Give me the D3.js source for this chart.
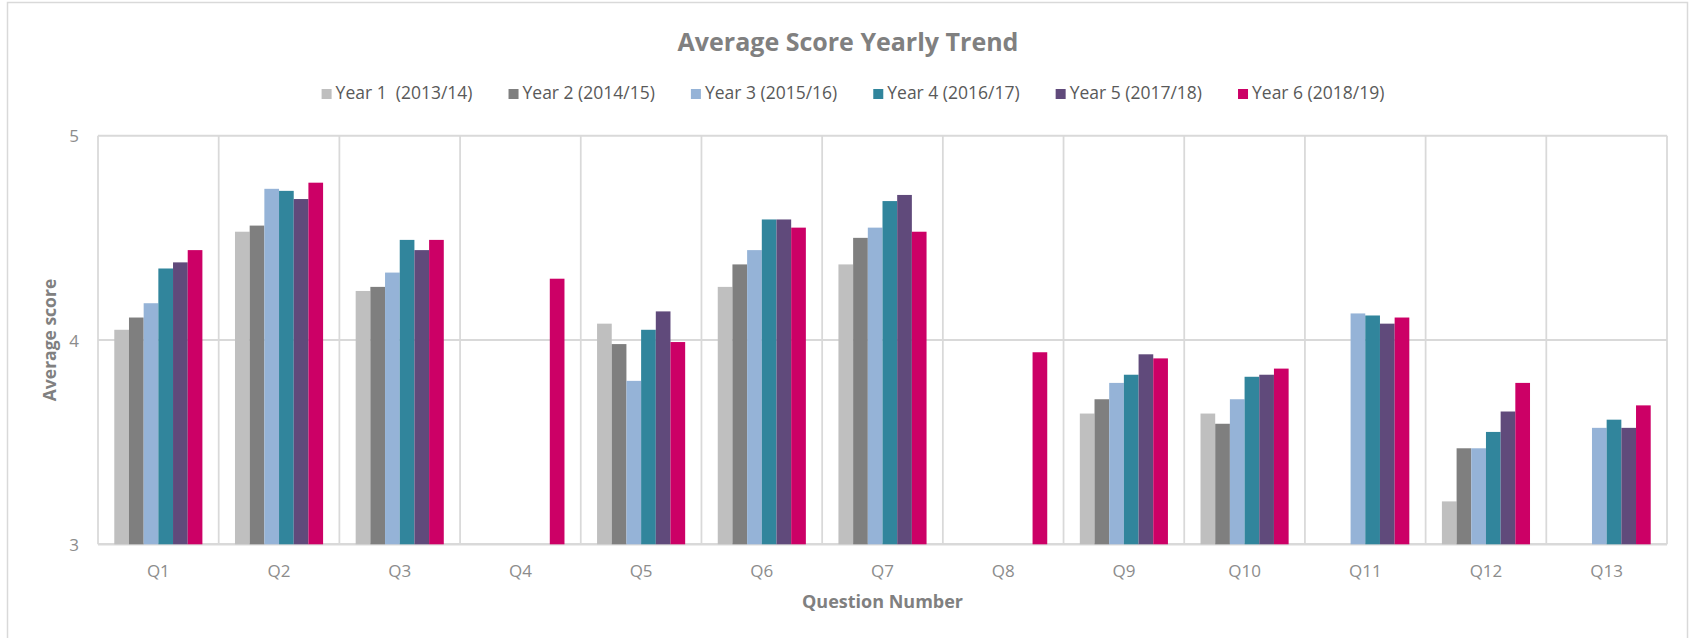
<!DOCTYPE html>
<html>
<head>
<meta charset="utf-8">
<script src="https://cdn.jsdelivr.net/npm/d3@7/dist/d3.min.js"></script>
<style>
  html, body { margin: 0; padding: 0; background: #ffffff; }
  svg { display: block; font-family: "Open Sans", "DejaVu Sans", sans-serif; }
  svg text { white-space: pre; }
</style>
</head>
<body>
<div id="chart"></div>
<script>
// categories and series (null = no bar that year)
const questions = ["Q1", "Q2", "Q3", "Q4", "Q5", "Q6", "Q7", "Q8", "Q9", "Q10", "Q11", "Q12", "Q13"]
const yearLabels = ["Year 1  (2013/14)", "Year 2 (2014/15)", "Year 3 (2015/16)", "Year 4 (2016/17)", "Year 5 (2017/18)", "Year 6 (2018/19)"]
const yearColors = ["#bfbfbf", "#7f7f7f", "#95b3d7", "#31859c", "#604a7b", "#cc0066"]

const year1 = [4.05, 4.53, 4.24, null, 4.08, 4.26, 4.37, null, 3.64, 3.64, null, 3.21, null]
const year2 = [4.11, 4.56, 4.26, null, 3.98, 4.37, 4.50, null, 3.71, 3.59, null, 3.47, null]
const year3 = [4.18, 4.74, 4.33, null, 3.80, 4.44, 4.55, null, 3.79, 3.71, 4.13, 3.47, 3.57]
const year4 = [4.35, 4.73, 4.49, null, 4.05, 4.59, 4.68, null, 3.83, 3.82, 4.12, 3.55, 3.61]
const year5 = [4.38, 4.69, 4.44, null, 4.14, 4.59, 4.71, null, 3.93, 3.83, 4.08, 3.65, 3.57]
const year6 = [4.44, 4.77, 4.49, 4.30, 3.99, 4.55, 4.53, 3.94, 3.91, 3.86, 4.11, 3.79, 3.68]

const yTicks = [3, 4, 5]

const series = [year1, year2, year3, year4, year5, year6]

const width = 1690
const height = 638
const margin = { top: 135.7, right: 23, bottom: 93.7, left: 98 }
const plotW = width - margin.left - margin.right
const plotH = height - margin.top - margin.bottom
const fontFamily = '"Open Sans", "DejaVu Sans", sans-serif'

const svg = d3.select("#chart")
    .append("svg")
    .attr("width", width)
    .attr("height", height)

// outer chart border
svg.append("rect")
    .attr("x", 7.5)
    .attr("y", 2.5)
    .attr("width", 1680)
    .attr("height", 700)
    .attr("fill", "none")
    .attr("stroke", "#d9d9d9")
    .attr("stroke-width", 1.5)

const g = svg.append("g")
    .attr("transform", `translate(${margin.left},${margin.top})`)

const x0 = d3.scaleBand()
    .domain(questions)
    .range([0, plotW])
    .padding(0)

const groupW = x0.bandwidth() * 0.73
const x1 = d3.scaleBand()
    .domain(d3.range(series.length))
    .range([(x0.bandwidth() - groupW) / 2, (x0.bandwidth() + groupW) / 2])
    .padding(0)

const y = d3.scaleLinear()
    .domain([3, 5])
    .range([plotH, 0])

// horizontal gridlines
g.append("g")
    .selectAll("line")
    .data(yTicks)
    .join("line")
    .attr("x1", 0)
    .attr("x2", plotW)
    .attr("y1", d => y(d))
    .attr("y2", d => y(d))
    .attr("stroke", "#d9d9d9")
    .attr("stroke-width", d => d === 3 ? 2.5 : 2)

// vertical gridlines at category boundaries
const bounds = questions.map(q => x0(q)).concat([plotW])
g.append("g")
    .selectAll("line")
    .data(bounds)
    .join("line")
    .attr("x1", d => d)
    .attr("x2", d => d)
    .attr("y1", y(5))
    .attr("y2", y(3))
    .attr("stroke", "#d9d9d9")
    .attr("stroke-width", 1.75)

// bars
const groups = g.append("g")
    .selectAll("g")
    .data(questions)
    .join("g")
    .attr("transform", q => `translate(${x0(q)},0)`)

groups.selectAll("rect")
    .data((q, qi) => series.map((s, si) => ({ si: si, v: s[qi] })).filter(d => d.v !== null))
    .join("rect")
    .attr("x", d => x1(d.si))
    .attr("y", d => y(d.v))
    .attr("width", x1.bandwidth())
    .attr("height", d => y(3) - y(d.v))
    .attr("fill", d => yearColors[d.si])

// y axis tick labels
const yAxis = g.append("g")
    .attr("transform", "translate(-19,0)")
    .call(d3.axisLeft(y).tickValues(yTicks).tickSize(0).tickPadding(0).tickFormat(d3.format("d")))
yAxis.attr("font-family", fontFamily).attr("font-size", 17)
yAxis.select(".domain").remove()
yAxis.selectAll("text")
    .attr("fill", "#8c8c8c")
    .attr("dy", "0.36em")

// x axis tick labels
const xAxis = g.append("g")
    .attr("transform", `translate(0,${plotH})`)
    .call(d3.axisBottom(x0).tickSize(0).tickPadding(0))
xAxis.attr("font-family", fontFamily).attr("font-size", 17)
xAxis.select(".domain").remove()
xAxis.selectAll("text")
    .attr("fill", "#8c8c8c")
    .attr("y", 33)
    .attr("dy", 0)

// axis titles
svg.append("text")
    .attr("transform", `translate(56,${margin.top + plotH / 2}) rotate(-90)`)
    .attr("text-anchor", "middle")
    .attr("fill", "#808080")
    .style("font-size", "17.5px")
    .style("font-weight", "bold")
    .text("Average score")

svg.append("text")
    .attr("x", margin.left + plotW / 2)
    .attr("y", 608)
    .attr("text-anchor", "middle")
    .attr("fill", "#808080")
    .style("font-size", "18px")
    .style("font-weight", "bold")
    .text("Question Number")

// title
svg.append("text")
    .attr("x", 848)
    .attr("y", 50.5)
    .attr("text-anchor", "middle")
    .attr("fill", "#808080")
    .style("font-size", "25px")
    .style("font-weight", "bold")
    .text("Average Score Yearly Trend")

// legend, laid out from measured text widths and centred
const legend = svg.append("g")
const items = legend.selectAll("g")
    .data(yearLabels)
    .join("g")
items.append("rect")
    .attr("width", 10)
    .attr("height", 10)
    .attr("y", 89)
    .attr("fill", (d, i) => yearColors[i])
items.append("text")
    .attr("x", 14)
    .attr("y", 99)
    .attr("fill", "#595959")
    .style("font-size", "17.5px")
    .text(d => d)

let cursor = 0
items.each(function () {
    const w = d3.select(this).select("text").node().getComputedTextLength()
    d3.select(this).attr("transform", `translate(${cursor},0)`)
    cursor += 14 + w + 36
})
const legendW = cursor - 36
legend.attr("transform", `translate(${853 - legendW / 2},0)`)
</script>
</body>
</html>
